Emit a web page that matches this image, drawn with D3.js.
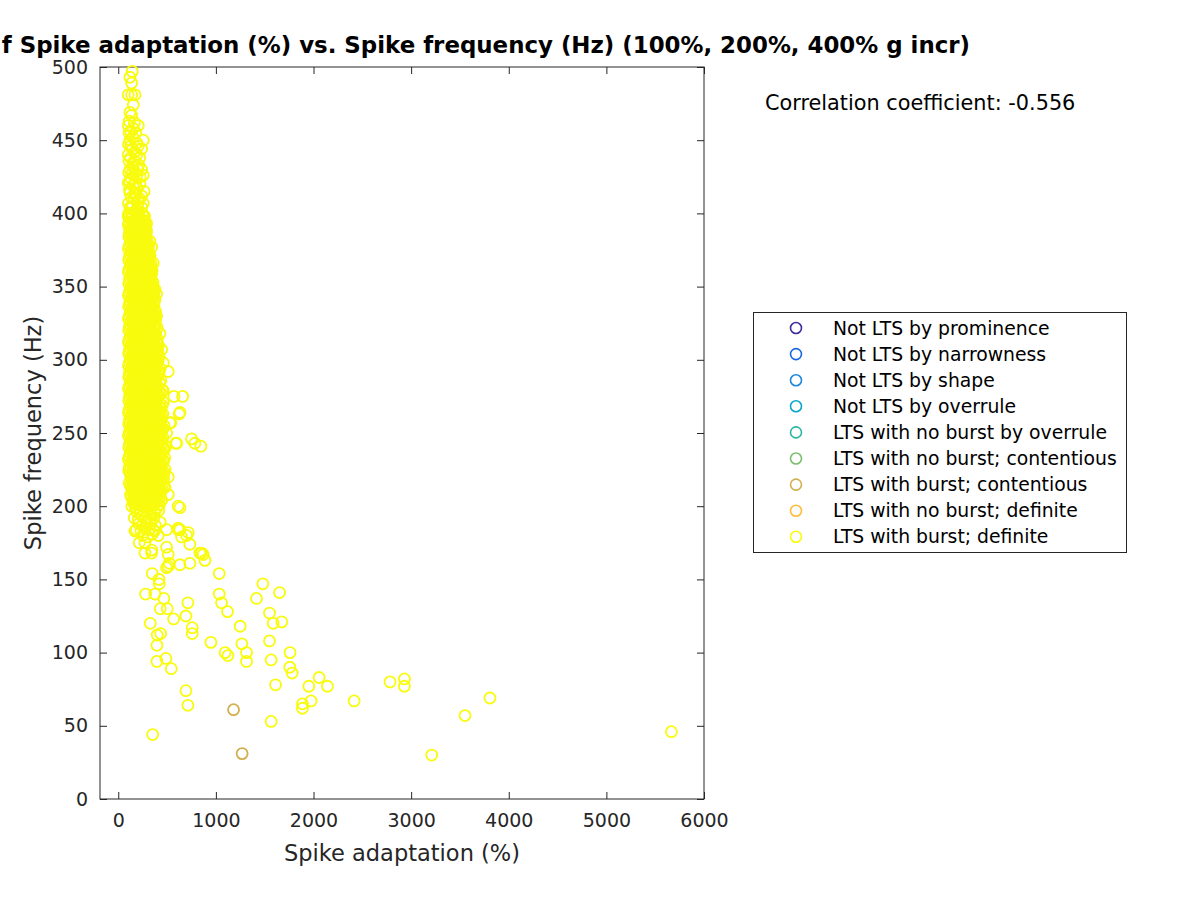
<!DOCTYPE html>
<html><head><meta charset="utf-8">
<script src="https://cdn.jsdelivr.net/npm/d3@7"></script>
<style>body{margin:0;background:#fff}svg{display:block}text{font-family:"DejaVu Sans",sans-serif}</style>
</head><body><svg id="c" width="1200" height="900"></svg>
<script>
const titleText = "f Spike adaptation (%) vs. Spike frequency (Hz) (100%, 200%, 400% g incr)";
const xLabel = "Spike adaptation (%)";
const yLabel = "Spike frequency (Hz)";
const corrText = "Correlation coefficient: -0.556";
const xTicks = [0,1000,2000,3000,4000,5000,6000];
const yTicks = [0,50,100,150,200,250,300,350,400,450,500];
const categories = ["Not LTS by prominence","Not LTS by narrowness","Not LTS by shape","Not LTS by overrule","LTS with no burst by overrule","LTS with no burst; contentious","LTS with burst; contentious","LTS with no burst; definite","LTS with burst; definite"];
const catColors = ["#3E2A9C","#1565E0","#1E88DC","#0AA6C8","#2EB5A0","#7BBE6E","#D2AF4E","#FCBD3A","#F9FB0E"];

const burstContentious = [[1181,61],[1269,31]];

const burstDefiniteSparse = [[5666,46],[3807,69],[3552,57],[3211,30],[2931,82],[2931,77],[2784,80],[2416,67],[2143,77],[2057,83],[1952,77],[1975,67],[1887,65],[1887,62],[1781,86],[1757,90],[1760,100],[1566,53],[1611,78],[1566,95],[1549,108],[1587,120],[1549,127],[1675,121],[1652,141],[1481,147],[1416,137],[1314,94],[1314,100],[1266,106],[1249,118],[1123,98],[1095,100],[1119,128],[1058,134],[1034,140],[1034,154],[949,107],[758,117],[758,113],[713,134],[693,125],[693,74],[713,64],[567,123],[502,130],[430,130],[468,137],[376,140],[280,140],[417,150],[420,147],[348,154],[328,120],[399,112],[434,113],[396,105],[488,96],[396,94],[543,89],[352,44]];

const burstDefiniteLow = [[215,175],[273,168],[342,168],[495,172],[512,167],[632,160],[734,161],[734,174],[836,168],[888,163],[522,161],[495,158],[870,167],[171,183],[358,184],[614,184],[700,180],[853,168],[512,159],[342,170],[273,175]];

const burstDefiniteRight = [[632,264],[751,246],[846,241],[785,243],[590,243],[539,257],[495,250],[512,220],[632,199],[614,185],[649,179],[512,208],[478,213],[570,275],[659,275],[624,263],[444,307],[512,292],[461,298],[427,318],[358,333],[461,279],[614,200],[632,184],[717,182],[495,184],[598,243],[529,257]];

const burstDefiniteTop = [[143,497],[120,493],[137,489],[137,481],[102,481],[171,481],[154,474],[120,469],[137,467],[102,460],[205,460],[154,458],[256,450],[120,450],[205,446],[239,444],[102,440],[154,434],[239,430],[120,430],[188,426],[256,426],[102,421],[222,420],[171,414],[120,414],[239,412],[256,407],[120,404],[188,400],[290,393],[102,398],[222,390],[324,381],[137,386],[342,377],[256,373],[358,366],[324,361],[376,348],[342,341],[393,345],[110,455],[150,452],[190,448],[130,446],[170,442],[220,438],[110,436],[150,432],[200,430],[130,424],[175,420],[115,416],[160,410],[205,408],[240,404],[130,404],[185,402],
[112,463],[165,462],[128,456],[180,455],[105,447],[145,444],[190,440],[125,438],[165,436],[210,433],[108,428],[140,427],[175,428],[225,425],[115,422],[150,419],[195,417],[135,411],[180,412],[220,410],[105,407],[150,405],[200,404],[265,415],[270,398]];

const burstDefiniteCore = [
[106,400],[140,400],[175,401],[212,399],[246,400],
[122,396],[158,395],[195,397],[230,396],[262,395],
[104,392],[138,391],[172,393],[208,392],[244,391],[275,392],
[118,388],[155,387],[190,389],[226,388],[260,387],[290,388],
[108,384],[142,383],[178,385],[214,384],[250,383],[282,384],
[124,380],[160,379],[196,381],[232,380],[268,379],[298,380],
[105,376],[140,375],[176,377],[210,376],[246,375],[280,376],[310,377],
[120,372],[156,371],[192,373],[228,372],[262,371],[296,372],[322,371],
[108,368],[144,367],[180,369],[216,368],[252,367],[288,368],[318,369],
[125,364],[160,363],[196,365],[232,364],[268,363],[302,364],[330,363],
[104,360],[140,359],[176,361],[212,360],[248,359],[284,360],[316,361],[340,359],
[118,356],[154,355],[190,357],[226,356],[262,355],[298,356],[330,357],
[108,352],[144,351],[180,353],[216,352],[252,351],[288,352],[322,353],[350,351],
[124,348],[160,347],[196,349],[232,348],[268,347],[304,348],[336,349],[360,347],
[105,344],[140,343],[176,345],[212,344],[248,343],[284,344],[318,345],[350,343],
[120,340],[156,339],[192,341],[228,340],[264,339],[300,340],[334,341],[366,339],
[108,336],[144,335],[180,337],[216,336],[252,335],[288,336],[324,337],[356,335],
[124,332],[160,331],[196,333],[232,332],[268,331],[304,332],[340,333],[372,331],
[104,328],[140,327],[176,329],[212,328],[248,327],[284,328],[320,329],[354,327],[384,328],
[118,324],[154,323],[190,325],[226,324],[262,323],[298,324],[334,325],[368,323],
[108,320],[144,319],[180,321],[216,320],[252,319],[288,320],[324,321],[358,319],[390,320],
[122,316],[158,315],[194,317],[230,316],[266,315],[302,316],[338,317],[372,315],
[105,312],[140,311],[176,313],[212,312],[248,311],[284,312],[320,313],[354,311],[392,312],
[120,308],[156,307],[192,309],[228,308],[264,307],[300,308],[336,309],[370,307],[404,308],
[108,304],[144,303],[180,305],[216,304],[252,303],[288,304],[324,305],[360,303],[396,304],
[124,300],[160,299],[196,301],[232,300],[268,299],[304,300],[340,301],[376,299],[410,300],
[104,296],[140,295],[176,297],[212,296],[248,295],[284,296],[320,297],[356,295],[392,296],
[118,292],[154,291],[190,293],[226,292],[262,291],[298,292],[334,293],[370,291],[420,292],
[108,288],[144,287],[180,289],[216,288],[252,287],[288,288],[324,289],[360,287],[398,288],
[122,284],[158,283],[194,285],[230,284],[266,283],[302,284],[338,285],[374,283],[426,284],
[105,280],[140,279],[176,281],[212,280],[248,279],[284,280],[320,281],[356,279],[392,280],
[120,276],[156,275],[192,277],[228,276],[264,275],[300,276],[336,277],[372,275],[410,276],[440,277],
[108,272],[144,271],[180,273],[216,272],[252,271],[288,272],[324,273],[360,271],[396,272],
[124,268],[160,267],[196,269],[232,268],[268,267],[304,268],[340,269],[376,267],[416,268],[450,269],
[104,264],[140,263],[176,265],[212,264],[248,263],[284,264],[320,265],[356,263],[392,264],[428,265],
[118,260],[154,259],[190,261],[226,260],[262,259],[298,260],[334,261],[370,259],[406,260],[445,261],
[108,256],[144,255],[180,257],[216,256],[252,255],[288,256],[324,257],[360,255],[396,256],[432,257],
[122,252],[158,251],[194,253],[230,252],[266,251],[302,252],[338,253],[374,251],[410,252],[460,253],
[105,248],[140,247],[176,249],[212,248],[248,247],[284,248],[320,249],[356,247],[392,248],[430,249],
[120,244],[156,243],[192,245],[228,244],[264,243],[300,244],[336,245],[372,243],[408,244],[444,245],
[108,240],[144,239],[180,241],[216,240],[252,239],[288,240],[324,241],[360,239],[396,240],[440,241],[475,239],
[124,236],[160,235],[196,237],[232,236],[268,235],[304,236],[340,237],[376,235],[412,236],[450,237],
[104,232],[140,231],[176,233],[212,232],[248,231],[284,232],[320,233],[356,231],[392,232],[428,233],[465,231],
[118,228],[154,227],[190,229],[226,228],[262,227],[298,228],[334,229],[370,227],[406,228],[444,229],
[108,224],[144,223],[180,225],[216,224],[252,223],[288,224],[324,225],[360,223],[396,224],[432,225],[470,223],
[130,220],[166,219],[202,221],[238,220],[274,219],[310,220],[346,221],[382,219],[418,220],[455,221],
[112,216],[148,215],[184,217],[220,216],[256,215],[292,216],[328,217],[364,215],[400,216],[440,217],
[140,212],[176,211],[212,213],[248,212],[284,211],[320,212],[356,213],[392,211],[430,212],[470,213],
[126,208],[162,207],[198,209],[234,208],[270,207],[306,208],[342,209],[378,207],[420,208],
[150,204],[186,203],[222,205],[258,204],[294,203],[330,204],[366,205],[402,203],[445,204],
[140,200],[176,199],[212,201],[248,200],[284,199],[320,200],[356,201],[395,199],
[190,196],[226,195],[262,197],[298,196],[334,195],[372,196],[415,197],
[165,192],[205,191],[245,193],[285,192],[325,191],[365,192],
[210,188],[250,187],[290,189],[330,188],[380,187],[430,189],
[185,184],[232,183],[278,185],[320,184],[372,183],
[250,180],[300,179],[350,181],[410,180]
];

const burstDefiniteMid = [
[114,398],[150,398],[186,399],[222,397],[256,398],
[110,394],[146,393],[182,395],[218,394],[252,393],[270,394],
[128,390],[164,389],[200,391],[236,390],[268,389],[282,390],
[112,386],[148,385],[184,387],[220,386],[256,385],[286,386],
[130,382],[166,381],[202,383],[238,382],[274,381],[292,382],
[114,378],[150,377],[186,379],[222,378],[258,377],[292,378],[304,379],
[130,374],[166,373],[202,375],[238,374],[274,373],[306,374],[316,373],
[114,370],[150,369],[186,371],[222,370],[258,369],[294,370],[326,371],
[132,366],[168,365],[204,367],[240,366],[276,365],[310,366],[336,365],
[112,362],[148,361],[184,363],[220,362],[256,361],[292,362],[324,363],[346,361],
[130,358],[166,357],[202,359],[238,358],[274,357],[310,358],[342,359],
[114,354],[150,353],[186,355],[222,354],[258,353],[294,354],[330,355],[356,353],
[132,350],[168,349],[204,351],[240,350],[276,349],[312,350],[346,351],[366,349],
[112,346],[148,345],[184,347],[220,346],[256,345],[292,346],[328,347],[362,345],
[130,342],[166,341],[202,343],[238,342],[274,341],[310,342],[346,343],[376,341],
[114,338],[150,337],[186,339],[222,338],[258,337],[294,338],[330,339],[366,337],
[132,334],[168,333],[204,335],[240,334],[276,333],[312,334],[348,335],[382,333],
[112,330],[148,329],[184,331],[220,330],[256,329],[292,330],[328,331],[364,329],[392,330],
[130,326],[166,325],[202,327],[238,326],[274,325],[310,326],[346,327],[380,325],
[114,322],[150,321],[186,323],[222,322],[258,321],[294,322],[330,323],[366,321],[398,322],
[132,318],[168,317],[204,319],[240,318],[276,317],[312,318],[348,319],[384,317],
[112,314],[148,313],[184,315],[220,314],[256,313],[292,314],[328,315],[364,313],[402,314],
[130,310],[166,309],[202,311],[238,310],[274,309],[310,310],[346,311],[382,309],[412,310],
[114,306],[150,305],[186,307],[222,306],[258,305],[294,306],[330,307],[366,305],[404,306],
[132,302],[168,301],[204,303],[240,302],[276,301],[312,302],[348,303],[384,301],[418,302],
[112,298],[148,297],[184,299],[220,298],[256,297],[292,298],[328,299],[364,297],[402,298],
[130,294],[166,293],[202,295],[238,294],[274,293],[310,294],[346,295],[382,293],[430,294],
[114,290],[150,289],[186,291],[222,290],[258,289],[294,290],[330,291],[366,289],[408,290],
[132,286],[168,285],[204,287],[240,286],[276,285],[312,286],[348,287],[384,285],[436,286],
[112,282],[148,281],[184,283],[220,282],[256,281],[292,282],[328,283],[364,281],[402,282],
[130,278],[166,277],[202,279],[238,278],[274,277],[310,278],[346,279],[382,277],[420,278],[452,279],
[114,274],[150,273],[186,275],[222,274],[258,273],[294,274],[330,275],[366,273],[406,274],
[132,270],[168,269],[204,271],[240,270],[276,269],[312,270],[348,271],[384,269],[426,270],[462,271],
[112,266],[148,265],[184,267],[220,266],[256,265],[292,266],[328,267],[364,265],[400,266],[438,267],
[130,262],[166,261],[202,263],[238,262],[274,261],[310,262],[346,263],[382,261],[418,262],[456,263],
[114,258],[150,257],[186,259],[222,258],[258,257],[294,258],[330,259],[366,257],[402,258],[440,259],
[132,254],[168,253],[204,255],[240,254],[276,253],[312,254],[348,255],[384,253],[420,254],[470,255],
[112,250],[148,249],[184,251],[220,250],[256,249],[292,250],[328,251],[364,249],[400,250],[440,251],
[130,246],[166,245],[202,247],[238,246],[274,245],[310,246],[346,247],[382,245],[418,246],[456,247],
[114,242],[150,241],[186,243],[222,242],[258,241],[294,242],[330,243],[366,241],[402,242],[452,243],[488,241],
[132,238],[168,237],[204,239],[240,238],[276,237],[312,238],[348,239],[384,237],[420,238],[462,239],
[112,234],[148,233],[184,235],[220,234],[256,233],[292,234],[328,235],[364,233],[400,234],[438,235],[476,233],
[130,230],[166,229],[202,231],[238,230],[274,229],[310,230],[346,231],[382,229],[418,230],[456,231],
[114,226],[150,225],[186,227],[222,226],[258,225],[294,226],[330,227],[366,225],[402,226],[440,227],[480,225],
[122,222],[158,221],[194,223],[230,222],[266,221],[302,222],[338,223],[374,221],[410,222],[448,223],
[138,218],[174,217],[210,219],[246,218],[282,217],[318,218],[354,219],[390,217],[428,218],[465,219],
[124,214],[160,213],[196,215],[232,214],[268,213],[304,214],[340,215],[376,213],[412,214],[452,215],
[146,210],[182,209],[218,211],[254,210],[290,209],[326,210],[362,211],[398,209],[440,210],
[136,206],[172,205],[208,207],[244,206],[280,205],[316,206],[352,207],[390,205],[432,206],
[160,202],[196,201],[232,203],[268,202],[304,201],[340,202],[376,203],[420,201]
];

const burstDefinite = [].concat(burstDefiniteCore, burstDefiniteMid, burstDefiniteTop, burstDefiniteRight, burstDefiniteLow, burstDefiniteSparse);

const svg = d3.select("#c");
const L = 100, R = 704, T = 67, B = 799;
const x = d3.scaleLinear().domain([-187, 6000]).range([L, R]);
const y = d3.scaleLinear().domain([0, 500]).range([B, T]);
const axisCol = "#262626";
const tl = 7;

// axes
const gx = svg.append("g").attr("transform", `translate(0,${B})`)
  .call(d3.axisBottom(x).tickValues(xTicks).tickSize(-tl).tickPadding(15).tickFormat(d3.format("d")));
const gxt = svg.append("g").attr("transform", `translate(0,${T})`)
  .call(d3.axisTop(x).tickValues(xTicks).tickSize(-tl).tickFormat(""));
const gy = svg.append("g").attr("transform", `translate(${L},0)`)
  .call(d3.axisLeft(y).tickValues(yTicks).tickSize(-tl).tickPadding(12).tickFormat(d3.format("d")));
const gyr = svg.append("g").attr("transform", `translate(${R},0)`)
  .call(d3.axisRight(y).tickValues(yTicks).tickSize(-tl).tickFormat(""));
[gx, gxt, gy, gyr].forEach(g => {
  g.select(".domain").remove();
  g.selectAll(".tick line").attr("stroke", axisCol).attr("stroke-width", 1);
  g.selectAll(".tick text").attr("fill", axisCol).style("font-size", "19px").style("font-family", "DejaVu Sans");
});
gx.selectAll(".tick text").attr("dy", "0.71em");
svg.append("rect").attr("x", L).attr("y", T).attr("width", R - L).attr("height", B - T)
  .attr("fill", "none").attr("stroke", axisCol).attr("stroke-width", 1);

// points
const r = 5.5, sw = 1.8;
svg.append("g").selectAll("circle").data(burstContentious).join("circle")
  .attr("cx", d => x(d[0])).attr("cy", d => y(d[1])).attr("r", r)
  .attr("fill", "none").attr("stroke", catColors[6]).attr("stroke-width", sw);
svg.append("g").selectAll("circle").data(burstDefinite).join("circle")
  .attr("cx", d => x(d[0])).attr("cy", d => y(d[1])).attr("r", r)
  .attr("fill", "none").attr("stroke", catColors[8]).attr("stroke-width", sw);

// labels
svg.append("text").attr("x", (L + R) / 2).attr("y", 861).attr("text-anchor", "middle")
  .attr("fill", axisCol).style("font-size", "22.5px").text(xLabel);
svg.append("text").attr("transform", `translate(41,${(T + B) / 2}) rotate(-90)`).attr("text-anchor", "middle")
  .attr("fill", axisCol).style("font-size", "22.5px").text(yLabel);
svg.append("text").attr("x", 970).attr("y", 53).attr("text-anchor", "end")
  .attr("fill", "#000").style("font-size", "22.9px").style("font-weight", "bold").text(titleText);
svg.append("text").attr("x", 765).attr("y", 110).attr("fill", "#000").style("font-size", "20.8px").text(corrText);

// legend
const lg = svg.append("g");
lg.append("rect").attr("x", 753.5).attr("y", 312.5).attr("width", 373).attr("height", 240)
  .attr("fill", "#fff").attr("stroke", axisCol).attr("stroke-width", 1);
categories.forEach((c, i) => {
  const yy = 328 + i * 26.1;
  lg.append("circle").attr("cx", 796).attr("cy", yy).attr("r", r).attr("fill", "none")
    .attr("stroke", catColors[i]).attr("stroke-width", 1.6);
  lg.append("text").attr("x", 833).attr("y", yy).attr("dy", "0.35em").attr("fill", "#000")
    .style("font-size", "18.8px").text(c);
});
</script></body></html>
